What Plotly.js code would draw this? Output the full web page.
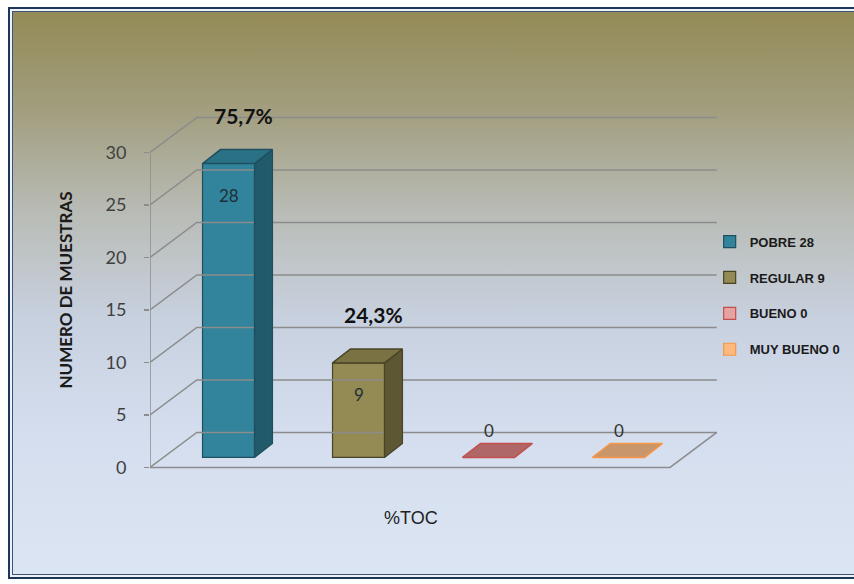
<!DOCTYPE html>
<html>
<head>
<meta charset="utf-8">
<script src="https://cdn.plot.ly/plotly-3.0.1.min.js"></script>
<style>
  html, body { margin:0; padding:0; width:854px; height:584px; overflow:hidden; background:#ffffff; }
  #frame {
    position:absolute; left:8px; top:7px; width:850px; height:568px;
    border:2px solid #1f365c;
    box-shadow: inset 0 0 0 2px #eef2f6, inset 0 0 0 3px #3d5478;
    background: linear-gradient(to bottom, #938a55 0%, #a29e7f 18%, #b9bcb6 36%, #c8d1e0 55%, #d4deee 75%, #dce5f3 100%);
  }
  #chart { position:absolute; left:0; top:0; width:854px; height:584px; }
</style>
</head>
<body>
<div id="frame"></div>
<div id="chart"></div>
<script>
// ---- data ----
const categories = ['POBRE', 'REGULAR', 'BUENO', 'MUY BUENO'];
const values = [28, 9, 0, 0];
const percentLabels = ['75,7%', '24,3%', '', ''];
const yTicks = [0, 5, 10, 15, 20, 25, 30];
const xTitle = '%TOC';
const yTitle = 'NUMERO DE MUESTRAS';

// ---- styles ----
const frontColors = ['#31849b', '#948a54', '#e6a3a2', '#f9b97f'];
const sideColors  = ['#215a6a', '#5e5733', '#8e4c4b', '#b27a4f'];
const topColors   = ['#2b7186', '#7b7244', '#b06767', '#c9956b'];
const lineColors  = ['#1f4f5e', '#4a4427', '#c0504d', '#f79646'];
const gridColor = '#8c8c8c';

// ---- pseudo-3D geometry (axis units) ----
const X0 = -0.5, X1 = 3.5;          // floor front edge
const WDX = 0.36, WDY = 3.33;       // wall depth offset
const HALFW = 0.2;                  // bar half width
const FDX = 0.104, FDY = 0.95;      // bar front plane offset
const DDX = 0.138, DDY = 1.33;      // bar depth
const yMax = yTicks[yTicks.length - 1];

const traces = [];

// grid / walls
const gx = [], gy = [];
yTicks.forEach(t => {
  gx.push(X0, X0 + WDX, X1 + WDX, null);
  gy.push(t, t + WDY, t + WDY, null);
});
gx.push(X0, X0, null, X0, X1, X1 + WDX, null);
gy.push(0, yMax, null, 0, 0, WDY, null);
traces.push({
  type: 'scatter', mode: 'lines', x: gx, y: gy,
  line: { color: gridColor, width: 1.5 },
  hoverinfo: 'skip', showlegend: false
});

// bar front faces (legend entries)
categories.forEach((c, i) => {
  traces.push({
    type: 'bar',
    name: '<b>' + c + ' ' + values[i] + '</b>',
    legendgroup: 'g' + i,
    x: [i + FDX], y: [values[i]], base: [FDY], width: [2 * HALFW],
    marker: { color: frontColors[i], line: { color: lineColors[i], width: 1.2 } },
    hoverinfo: 'skip'
  });
});

// side and top faces
categories.forEach((c, i) => {
  const v = values[i];
  const xl = i + FDX - HALFW, xr = i + FDX + HALFW;
  if (v > 0) {
    traces.push({
      type: 'scatter', mode: 'lines', fill: 'toself',
      x: [xr, xr, xr + DDX, xr + DDX, xr],
      y: [FDY, FDY + v, FDY + v + DDY, FDY + DDY, FDY],
      fillcolor: sideColors[i], line: { color: lineColors[i], width: 1.2 },
      hoverinfo: 'skip', showlegend: false
    });
  }
  traces.push({
    type: 'scatter', mode: 'lines', fill: 'toself',
    x: [xl, xr, xr + DDX, xl + DDX, xl],
    y: [FDY + v, FDY + v, FDY + v + DDY, FDY + v + DDY, FDY + v],
    fillcolor: topColors[i], line: { color: lineColors[i], width: 1.5 },
    hoverinfo: 'skip', showlegend: false
  });
});

// annotations
const annotations = [];
categories.forEach((c, i) => {
  const v = values[i];
  annotations.push({
    x: i + FDX, y: v > 0 ? FDY + v - 3.0 : FDY + DDY + 1.2,
    xref: 'x', yref: 'y', showarrow: false, text: String(v),
    font: { family: 'Lato, "Open Sans", sans-serif', size: 17, color: v > 0 ? '#1e2f38' : '#333333' }
  });
  if (percentLabels[i]) {
    annotations.push({
      x: i + 0.22, y: FDY + v + DDY + 3.25,
      xref: 'x', yref: 'y', showarrow: false, text: '<b>' + percentLabels[i] + '</b>',
      font: { family: 'Lato, "Open Sans", sans-serif', size: 21, color: '#111111' }
    });
  }
});
// x axis title placed under the floor
annotations.push({
  x: 1.51, y: -0.10, xref: 'x', yref: 'paper', showarrow: false,
  text: xTitle, yanchor: 'middle',
  font: { family: '"Liberation Sans", Arial, sans-serif', size: 18, color: '#222222' }
});

const layout = {
  width: 854, height: 584,
  margin: { l: 150, r: 119, t: 100, b: 104, autoexpand: false },
  paper_bgcolor: 'rgba(0,0,0,0)', plot_bgcolor: 'rgba(0,0,0,0)',
  barmode: 'overlay',
  showlegend: true,
  legend: {
    xref: 'container', yref: 'container',
    x: 0.831, y: 0.612, xanchor: 'left', yanchor: 'top',
    bgcolor: 'rgba(0,0,0,0)', tracegroupgap: 16, itemwidth: 30,
    font: { family: '"Liberation Sans Narrow", "Arial Narrow", "Liberation Sans", sans-serif', size: 13, color: '#1a1a1a' }
  },
  xaxis: {
    range: [-0.5, 4.0], showgrid: false, zeroline: false, showline: false,
    showticklabels: false, ticks: '', fixedrange: true, automargin: false
  },
  yaxis: {
    range: [-1.2, 35], showgrid: false, zeroline: false, showline: false,
    tickvals: yTicks, ticktext: yTicks.map(String),
    ticks: 'outside', ticklen: 5, tickcolor: gridColor, tickwidth: 1.5,
    ticklabelstandoff: 14, automargin: false,
    tickfont: { family: 'Lato, "Open Sans", sans-serif', size: 18, color: '#404040' },
    fixedrange: true,
    title: { text: '<b>' + yTitle + '</b>', standoff: 28, font: { family: 'Lato, "Open Sans", sans-serif', size: 17, color: '#1a1a1a' } }
  },
  annotations: annotations
};

Plotly.newPlot('chart', traces, layout, { displayModeBar: false, staticPlot: true });
</script>
</body>
</html>
